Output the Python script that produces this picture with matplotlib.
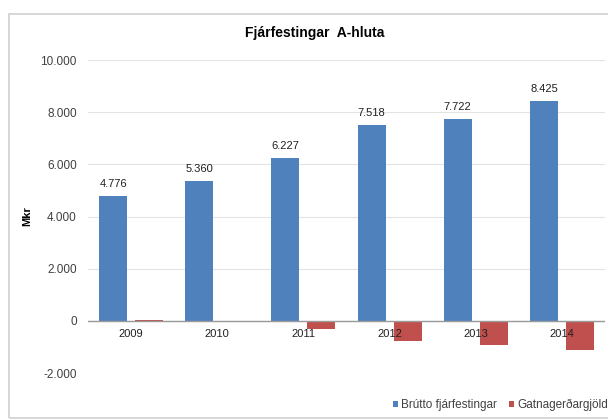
import matplotlib
matplotlib.use("Agg")
import matplotlib.pyplot as plt
from matplotlib.patches import Rectangle
import numpy as np

plt.rcParams['font.family'] = ['Liberation Sans', 'DejaVu Sans']

years = ["2009", "2010", "2011", "2012", "2013", "2014"]
brutto = [4776, 5360, 6227, 7518, 7722, 8425]
gatna = [30, -30, -300, -760, -940, -1100]
brutto_labels = ["4.776", "5.360", "6.227", "7.518", "7.722", "8.425"]
yticks = [-2000, 0, 2000, 4000, 6000, 8000, 10000]
ytick_labels = ["-2.000", "0", "2.000", "4.000", "6.000", "8.000", "10.000"]
series_names = ["Brútto fjárfestingar", "Gatnagerðargjöld"]
title = "Fjárfestingar  A-hluta"

W, H = 608, 419
fig = plt.figure(figsize=(W / 100, H / 100), dpi=100)
ax = fig.add_axes([88 / W, 1 - 373 / H, (605 - 88) / W, (373 - 60) / H])

x = np.arange(len(years))
bw = 0.325
off = 0.209
b1 = ax.bar(x - off, brutto, bw, color="#4F81BD", label=series_names[0], zorder=3)
b2 = ax.bar(x + off, gatna, bw, color="#C0504D", label=series_names[1], zorder=3)

ax.set_xlim(-0.5, len(years) - 0.5)
ax.set_ylim(-2000, 10000)
ax.set_yticks(yticks)
ax.set_yticklabels(ytick_labels, fontsize=8.5, color="#404040")
ax.tick_params(axis='y', length=0, pad=8)
ax.set_xticks([])
ax.grid(axis='y', color="#E3E3E3", linewidth=0.8, zorder=0)
ax.axhline(0, color="#9A9A9A", linewidth=1, zorder=4)
for s in ax.spines.values():
    s.set_visible(False)

for xi, v, lab in zip(x, brutto, brutto_labels):
    ax.annotate(lab, (xi - off, v), xytext=(0, 8.6), textcoords="offset points",
                ha="center", va="center", fontsize=8, color="#202020")
for xi, yr in zip(x, years):
    ax.annotate(yr, (xi, 0), xytext=(0, -9.4), textcoords="offset points",
                ha="center", va="center", fontsize=8, color="#202020", zorder=5)

ax.set_ylabel("Mkr", fontsize=8, fontweight="bold")
ax.yaxis.set_label_coords((32 - 88) / (605 - 88), 0.5)

fig.text(315 / W, 1 - 33 / H, title, ha="center", va="center",
         fontsize=10, fontweight="bold", color="#000000")

fig.legend(handles=[b1, b2], labels=series_names, loc="center left",
           bbox_to_anchor=(388 / W, 1 - 405 / H), ncol=2, frameon=False,
           fontsize=8.5, handlelength=0.45, handleheight=0.45, handletextpad=0.25,
           columnspacing=1.0, labelcolor="#404040", borderaxespad=0)

fig.patches.append(Rectangle((9 / W, 1 - 418 / H), (700 - 9) / W, (418 - 14) / H,
                             transform=fig.transFigure, fill=False,
                             edgecolor="#D0D0D0", linewidth=1.2))

fig.savefig("out.png", dpi=100)
